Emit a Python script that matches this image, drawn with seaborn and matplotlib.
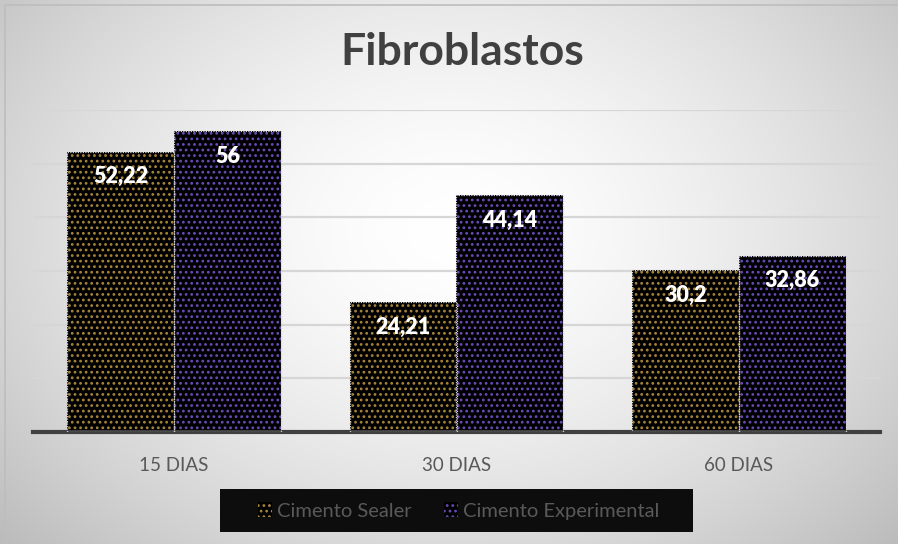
import numpy as np
import pandas as pd
import matplotlib
matplotlib.use("Agg")
import matplotlib.pyplot as plt
from matplotlib.patches import Rectangle, Patch
import seaborn as sns

categories = ["15 DIAS", "30 DIAS", "60 DIAS"]
series_names = ["Cimento Sealer", "Cimento Experimental"]
sealer_values = [52.22, 24.21, 30.2]
experimental_values = [56.0, 44.14, 32.86]
title_text = "Fibroblastos"

dot_colors = {"Cimento Sealer": "#a8863a", "Cimento Experimental": "#6a4cb8"}

df = pd.DataFrame({
    "categoria": categories * 2,
    "serie": [series_names[0]] * 3 + [series_names[1]] * 3,
    "valor": sealer_values + experimental_values,
})

sns.set_theme(style="white")
plt.rcParams["font.family"] = ["Lato", "DejaVu Sans"]
plt.rcParams["hatch.linewidth"] = 1.2

W, H = 898, 544
fig = plt.figure(figsize=(W / 100, H / 100), dpi=100)

# background radial gradient
bg = fig.add_axes([0, 0, 1, 1], zorder=-10)
yy, xx = np.mgrid[0:H, 0:W]
r = np.sqrt(((xx - 450) / 560) ** 2 + ((yy - 230) / 420) ** 2)
img = 1.0 - 0.23 * np.clip(r, 0, 1.3) ** 1.6
bg.imshow(np.dstack([img] * 3), extent=[0, W, H, 0], aspect="auto", vmin=0, vmax=1)
bg.add_patch(Rectangle((5, 5), W, H, fill=False, ec="#bdbdbd", lw=1.2))
bg.set_xlim(0, W)
bg.set_ylim(H, 0)
bg.axis("off")

ax = fig.add_axes([33 / W, 1 - 432 / H, (880 - 33) / W, (432 - 110) / H])
ax.set_facecolor("none")

sns.barplot(data=df, x="categoria", y="valor", hue="serie", order=categories,
            hue_order=series_names, width=0.757, gap=0, ax=ax, legend=False,
            palette=["black", "black"], saturation=1, errorbar=None)

for cont, name in zip(ax.containers, series_names):
    for p in cont:
        p.set_facecolor("black")
        p.set_edgecolor(dot_colors[name])
        p.set_linewidth(0)
        p.set_hatch("...")
        ax.add_patch(Rectangle(p.get_xy(), p.get_width(), p.get_height(), fill=False,
                               ec="#d0d0d0", lw=0.9, ls=(0, (1, 1)), zorder=3))

for cont, vals in zip(ax.containers, [sealer_values, experimental_values]):
    labels = [f"{v:g}".replace(".", ",") for v in vals]
    texts = ax.bar_label(cont, labels=labels, padding=-18, color="white",
                         fontweight="heavy", fontsize=15.5)
    for t in texts:
        t.set_va("center")

ax.set_xlim(-0.5, 2.5)
ax.set_ylim(0, 60)
ax.set_yticks([10, 20, 30, 40, 50, 60])
ax.yaxis.grid(True, color="#d6d6d6", lw=1.6)
ax.set_axisbelow(True)
ax.tick_params(axis="y", left=False, labelleft=False)
ax.tick_params(axis="x", bottom=False, labelsize=13.5, colors="#595959", pad=12)
ax.set_xlabel("")
ax.set_ylabel("")
for s in ["top", "right", "left"]:
    ax.spines[s].set_visible(False)
ax.spines["bottom"].set_color("#404040")
ax.spines["bottom"].set_linewidth(3)

fig.text(462 / W, 1 - 52 / H, title_text, ha="center", va="center",
         fontsize=32, fontweight="bold", color="#404040")

# legend
bg.add_patch(Rectangle((220, 489), 473, 43, fc="#0d0d0d", ec="none", zorder=2))
handles = [Patch(facecolor="black", edgecolor=dot_colors[n], hatch="...", lw=0) for n in series_names]
leg = fig.legend(handles, series_names, loc="center", bbox_to_anchor=(459 / W, 1 - 511 / H),
                 ncol=2, frameon=False, fontsize=14.5, labelcolor="#595959",
                 handlelength=0.7, handleheight=0.7, handletextpad=0.25, columnspacing=1.6)

fig.savefig("out.png", dpi=100)
